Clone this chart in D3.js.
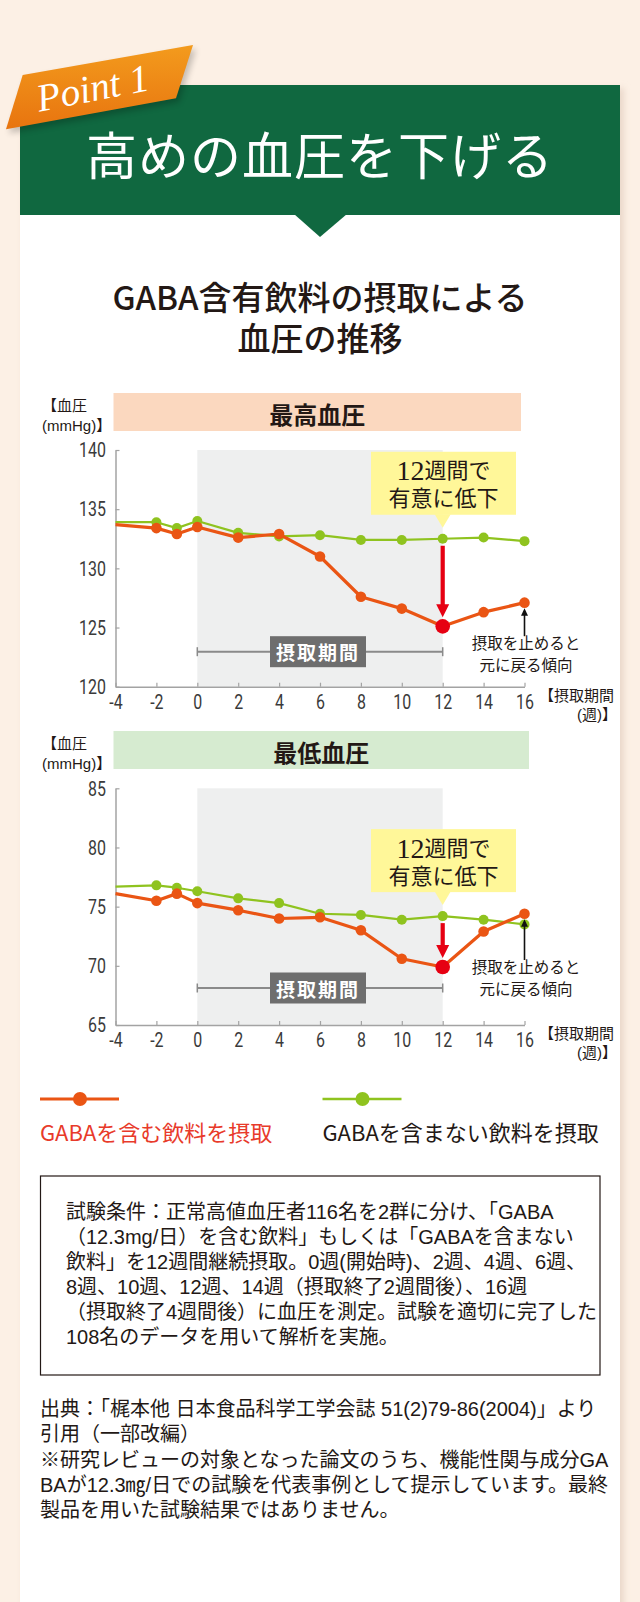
<!DOCTYPE html>
<html><head><meta charset="utf-8">
<script src="https://cdn.jsdelivr.net/npm/d3@7"></script>
<style>
html,body{margin:0;padding:0;background:#fcf0e5;}
svg{display:block;}
text{font-family:"Noto Sans CJK JP","Noto Sans",sans-serif;}
text.ml{font-family:"Liberation Sans","Noto Sans CJK JP",sans-serif;}
</style></head><body>
<svg id="c" width="640" height="1602"></svg>
<script>
// ---------------- data ----------------
const weeks   = [-4, -2, -1, 0, 2, 4, 6, 8, 10, 12, 14, 16];
const sysGaba = [133.7, 133.4, 132.9, 133.5, 132.6, 132.9, 131.0, 127.6, 126.6, 125.1, 126.3, 127.1];
const sysCtrl = [133.9, 133.9, 133.4, 134.0, 133.0, 132.7, 132.8, 132.4, 132.4, 132.5, 132.6, 132.3];
const diaGaba = [76.1, 75.5, 76.1, 75.3, 74.7, 74.0, 74.1, 73.0, 70.6, 69.9, 72.9, 74.4];
const diaCtrl = [76.7, 76.8, 76.6, 76.3, 75.7, 75.3, 74.4, 74.3, 73.9, 74.2, 73.9, 73.5];
const xTicks   = [-4, -2, 0, 2, 4, 6, 8, 10, 12, 14, 16];
const sysTicks = [120, 125, 130, 135, 140];
const diaTicks = [65, 70, 75, 80, 85];
const intakeStart = 0, intakeEnd = 12, highlightWeek = 12, lastWeek = 16;
const seriesNames = ["GABAを含む飲料を摂取", "GABAを含まない飲料を摂取"];
const chartTitles = ["最高血圧", "最低血圧"];
const yLabel = ["【血圧", "(mmHg)】"];
const xLabel = ["【摂取期間", "(週)】"];
const periodLabel = "摂取期間";
const calloutLines = [["12", "週間で"], "有意に低下"];
const noteLines = ["摂取を止めると", "元に戻る傾向"];
const headTitle = "高めの血圧を下げる";
const tagText = "Point 1";
const subTitle = ["GABA含有飲料の摂取による", "血圧の推移"];
const conditionLines = [
  "試験条件：正常高値血圧者116名を2群に分け、「GABA",
  "（12.3mg/日）を含む飲料」もしくは「GABAを含まない",
  "飲料」を12週間継続摂取。0週(開始時)、2週、4週、6週、",
  "8週、10週、12週、14週（摂取終了2週間後）、16週",
  "（摂取終了4週間後）に血圧を測定。試験を適切に完了した",
  "108名のデータを用いて解析を実施。"
];
const sourceLines = [
  "出典：「梶本他 日本食品科学工学会誌 51(2)79-86(2004)」より",
  "引用（一部改編）",
  "※研究レビューの対象となった論文のうち、機能性関与成分GA",
  "BAが12.3㎎/日での試験を代表事例として提示しています。最終",
  "製品を用いた試験結果ではありません。"
];

// ---------------- style ----------------
const ORANGE = "#ea5514", GREEN = "#8fc31f", RED = "#e60012", DARK = "#231815";

const svg = d3.select("#c");
const defs = svg.append("defs");
defs.append("filter").attr("id", "sh").attr("x", "-20%").attr("y", "-20%").attr("width", "140%").attr("height", "140%")
  .append("feGaussianBlur").attr("stdDeviation", 3);
const grad = defs.append("linearGradient").attr("id", "og").attr("x1", 0).attr("y1", 0).attr("x2", 0).attr("y2", 1);
grad.append("stop").attr("offset", 0).attr("stop-color", "#f39b1d");
grad.append("stop").attr("offset", 1).attr("stop-color", "#e8740f");

// multi-line text block helper (one <text>, one tspan per line)
function block(parent, lines, x, y, lh, opts) {
  const t = parent.append("text").attr("class", "ml").attr("x", x).attr("y", y).attr("dominant-baseline", "central")
    .attr("fill", opts.fill || DARK).attr("text-anchor", opts.anchor || "start").style("font-size", opts.size);
  lines.forEach((l, i) => t.append("tspan").attr("x", x).attr("dy", i === 0 ? 0 : lh).text(l));
  return t;
}

svg.append("rect").attr("width", 640).attr("height", 1602).attr("fill", "#fcf0e5");
svg.append("rect").attr("x", 23).attr("y", 88).attr("width", 601).attr("height", 1540).attr("fill", "#ead8ca").attr("filter", "url(#sh)");
svg.append("rect").attr("x", 20).attr("y", 85).attr("width", 600).attr("height", 1540).attr("fill", "#fff");
svg.append("rect").attr("x", 20).attr("y", 85).attr("width", 600).attr("height", 130).attr("fill", "#106840");
svg.append("path").attr("d", "M294,214 L347,214 L320,237 Z").attr("fill", "#106840");

// tag
const tagPts = "22.7,75 193,45 176,98.3 6,129.3";
svg.append("polygon").attr("points", tagPts).attr("transform", "translate(3,4)").attr("fill", "#000").attr("opacity", 0.22).attr("filter", "url(#sh)");
svg.append("polygon").attr("points", tagPts).attr("fill", "url(#og)");
svg.append("text").attr("x", 93).attr("y", 101).attr("transform", "rotate(-11 93 90)")
  .attr("text-anchor", "middle").attr("fill", "#fff")
  .style("font-family", "'Liberation Serif',serif").style("font-style", "italic").style("font-size", "39px")
  .text(tagText);

svg.append("text").attr("x", 320).attr("y", 153).attr("text-anchor", "middle").attr("dominant-baseline", "central")
  .attr("fill", "#fff").style("font-size", "51px").style("letter-spacing", "1px").text(headTitle);

const st = block(svg, subTitle, 320, 296, 43, { anchor: "middle", size: "33px" }).style("font-weight", 500);
st.select("tspan").style("font-family", "'Noto Sans CJK JP',sans-serif");

// ---------------- charts ----------------
const x = d3.scaleLinear().domain([-4, 16]).range([115.5, 524.5]);

function drawChart(cfg) {
  const y = d3.scaleLinear().domain(cfg.domain).range(cfg.range);
  const g = svg.append("g");
  const yTop = cfg.range[1], yBot = cfg.range[0];
  // title band
  g.append("rect").attr("x", 113.5).attr("y", cfg.bandTop).attr("width", cfg.bandRight - 113.5).attr("height", 38).attr("fill", cfg.bandColor);
  g.append("text").attr("x", (113.5 + cfg.bandRight) / 2).attr("y", cfg.bandTop + 20).attr("text-anchor", "middle")
    .attr("dominant-baseline", "central").attr("fill", DARK).style("font-size", "24px").style("font-weight", "bold").text(cfg.title);
  // y label
  block(g, yLabel, 42, cfg.bandTop + 12, 20, { size: "15px" });
  // shaded intake period
  g.append("rect").attr("x", x(intakeStart)).attr("y", yTop).attr("width", x(intakeEnd) - x(intakeStart)).attr("height", yBot - yTop).attr("fill", "#eeefef");
  // bracket
  const by = yBot - cfg.bracketOff;
  g.append("line").attr("x1", x(intakeStart)).attr("x2", x(intakeEnd)).attr("y1", by).attr("y2", by).attr("stroke", "#8a8a8a").attr("stroke-width", 2);
  [intakeStart, intakeEnd].forEach(w => g.append("line").attr("x1", x(w)).attr("x2", x(w)).attr("y1", by - 4.5).attr("y2", by + 4.5).attr("stroke", "#8a8a8a").attr("stroke-width", 1.5));
  const cx = (x(intakeStart) + x(intakeEnd)) / 2 - 2;
  g.append("rect").attr("x", cx - 48).attr("y", by - 15.5).attr("width", 96).attr("height", 31).attr("fill", "#6e6e6e");
  g.append("text").attr("x", cx).attr("y", by).attr("text-anchor", "middle").attr("dominant-baseline", "central")
    .attr("fill", "#fff").style("font-size", "19px").style("font-weight", "bold").style("letter-spacing", "2px").text(periodLabel);
  // axes
  const ax = g.append("g").attr("transform", `translate(0,${yBot})`)
    .call(d3.axisBottom(x).tickValues(xTicks).tickSizeInner(-4).tickSizeOuter(0).tickPadding(7).tickFormat(d3.format("d")));
  const ay = g.append("g").attr("transform", `translate(${x(-4)},0)`)
    .call(d3.axisLeft(y).tickValues(cfg.ticks).tickSizeInner(-4).tickSizeOuter(0).tickPadding(9));
  [ax, ay].forEach(a => {
    a.select(".domain").attr("stroke", "#a3a3a3").attr("stroke-width", 1.5);
    a.selectAll(".tick line").attr("stroke", "#a3a3a3").attr("stroke-width", 1.2);
    a.selectAll(".tick text").attr("fill", "#3a3a3a").style("font-family", "Roboto,'Liberation Sans',sans-serif").style("font-size", "21px");
  });
  ax.selectAll(".tick text").attr("transform", "scale(0.76,1)").text(d => d < 0 ? "-" + Math.abs(d) : d);
  ay.selectAll(".tick text").attr("transform", "scale(0.76,1)").attr("x", -9.5 / 0.76);
  const xl = g.append("text").attr("class", "ml").attr("y", yBot + 8).attr("dominant-baseline", "central").attr("fill", DARK).style("font-size", "15px");
  xl.append("tspan").attr("x", 539).text(xLabel[0]);
  xl.append("tspan").attr("x", 617).attr("dy", 19).attr("text-anchor", "end").text(xLabel[1]);

  // lines
  const line = d3.line().x((d, i) => x(weeks[i])).y(d => y(d));
  const series = [{ v: cfg.ctrl, c: GREEN, w: 2.2, r: 5 }, { v: cfg.gaba, c: ORANGE, w: 3.2, r: 5.3 }];
  series.forEach(s => {
    g.append("path").attr("d", line(s.v)).attr("fill", "none").attr("stroke", s.c).attr("stroke-width", s.w).attr("stroke-linejoin", "round");
    g.selectAll(null).data(s.v.map((v, i) => ({ w: weeks[i], v })).filter(d => d.w > -4)).join("circle")
      .attr("cx", d => x(d.w)).attr("cy", d => y(d.v)).attr("r", s.r).attr("fill", s.c);
  });
  const hi = weeks.indexOf(highlightWeek);
  const gy = y(cfg.gaba[hi]), cy = y(cfg.ctrl[hi]), hx = x(highlightWeek);
  g.append("circle").attr("cx", hx).attr("cy", gy).attr("r", 7.3).attr("fill", RED);

  // red arrow
  g.append("line").attr("x1", hx).attr("x2", hx).attr("y1", cy + 7).attr("y2", gy - 20).attr("stroke", RED).attr("stroke-width", 4.2);
  g.append("path").attr("d", `M${hx - 6.5},${gy - 22} L${hx + 6.5},${gy - 22} L${hx},${gy - 9} Z`).attr("fill", RED);

  // callout
  const tipY = cy - 11, bb = tipY - 13, bt = bb - 63;
  g.append("rect").attr("x", 371).attr("y", bt).attr("width", 145).attr("height", 63).attr("fill", "#fff799");
  g.append("path").attr("d", `M${hx - 8},${bb - 0.5} L${hx + 8},${bb - 0.5} L${hx},${tipY} Z`).attr("fill", "#fff799");
  const t1 = g.append("text").attr("class", "ml").attr("x", 443.5).attr("y", bt + 18.5).attr("text-anchor", "middle").attr("dominant-baseline", "central").attr("fill", DARK);
  t1.append("tspan").style("font-family", "'Liberation Serif',serif").style("font-size", "28px").text(calloutLines[0][0]);
  t1.append("tspan").style("font-size", "22px").text(calloutLines[0][1]);
  t1.append("tspan").attr("x", 443.5).attr("dy", 28).style("font-size", "22px").text(calloutLines[1]);

  // black arrow + note
  const li = weeks.indexOf(lastWeek);
  const lx = x(lastWeek), ly = y(cfg.gaba[li]);
  const n1 = yBot - cfg.noteOff;
  g.append("line").attr("x1", lx).attr("x2", lx).attr("y1", ly + 12).attr("y2", n1 - 7).attr("stroke", "#111").attr("stroke-width", 1.6);
  g.append("path").attr("d", `M${lx - 3.5},${ly + 13} L${lx + 3.5},${ly + 13} L${lx},${ly + 5.5} Z`).attr("fill", "#111");
  block(g, noteLines, 526, n1, 21.5, { anchor: "middle", size: "15.5px" });
}

drawChart({ title: chartTitles[0], bandTop: 393, bandRight: 521, bandColor: "#fbd8bf", domain: [120, 140], range: [686.7, 450],
  ticks: sysTicks, gaba: sysGaba, ctrl: sysCtrl, bracketOff: 35, noteOff: 43.5 });
drawChart({ title: chartTitles[1], bandTop: 731, bandRight: 529, bandColor: "#d6ebd0", domain: [65, 85], range: [1025, 788.3],
  ticks: diaTicks, gaba: diaGaba, ctrl: diaCtrl, bracketOff: 37, noteOff: 58 });

// ---------------- legend ----------------
const legend = [{ x0: 40, c: ORANGE, tc: "#e83a2a", w: 3.2 }, { x0: 322.5, c: GREEN, tc: DARK, w: 2.6 }];
legend.forEach((l, i) => {
  svg.append("line").attr("x1", l.x0).attr("x2", l.x0 + 79).attr("y1", 1099).attr("y2", 1099).attr("stroke", l.c).attr("stroke-width", l.w);
  svg.append("circle").attr("cx", l.x0 + 40).attr("cy", 1099).attr("r", 7).attr("fill", l.c);
  svg.append("text").attr("x", l.x0).attr("y", 1131).attr("dominant-baseline", "central").attr("fill", l.tc)
    .style("font-size", "22px").text(seriesNames[i]);
});

// ---------------- condition box ----------------
svg.append("rect").attr("x", 40.5).attr("y", 1176).attr("width", 559.5).attr("height", 199).attr("fill", "none").attr("stroke", DARK).attr("stroke-width", 1.2);
block(svg, conditionLines, 66, 1212, 25, { size: "20px" });
block(svg, sourceLines, 40, 1409, 25.3, { size: "20px" });
</script>
</body></html>
